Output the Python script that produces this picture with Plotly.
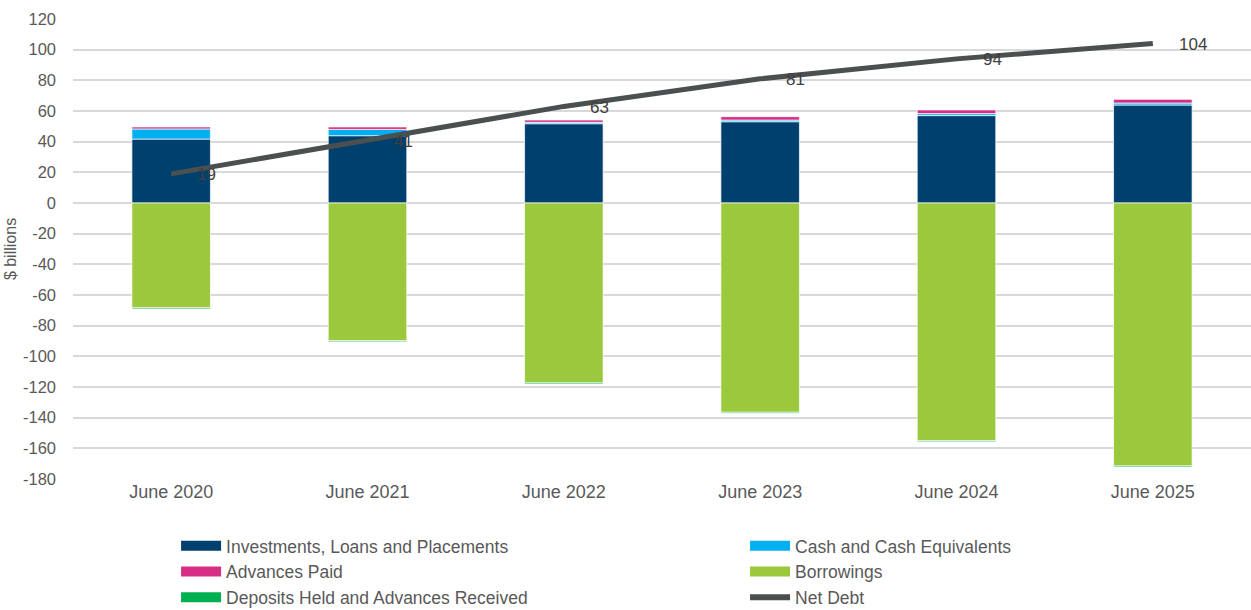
import plotly.graph_objects as go

categories = ["June 2020", "June 2021", "June 2022", "June 2023", "June 2024", "June 2025"]
investments = [41.7, 43.9, 51.7, 53.0, 57.0, 63.9]
cash = [6.6, 4.1, 0.9, 1.1, 1.3, 1.3]
advances_paid = [1.3, 1.6, 1.5, 2.2, 2.4, 2.4]
borrowings = [-68.4, -89.8, -117.3, -136.5, -155.0, -171.5]
deposits = [-0.7, -0.7, -0.7, -0.7, -0.7, -0.7]
net_debt = [19, 41, 63, 81, 94, 104]
y_ticks = list(range(-180, 121, 20))
y_tick_labels = [str(v) for v in y_ticks]

names = ["Investments, Loans and Placements", "Cash and Cash Equivalents", "Advances Paid",
         "Borrowings", "Deposits Held and Advances Received"]
colors = ["#00406E", "#00B0F0", "#D62E84", "#9BC83C", "#00B050"]
series = [investments, cash, advances_paid, borrowings, deposits]

fig = go.Figure()
for n, c, s in zip(names, colors, series):
    fig.add_trace(go.Bar(x=categories, y=s, name=n, marker_color=c,
                         marker_line=dict(color="rgba(255,255,255,0.7)", width=1),
                         width=0.4, showlegend=False))

fig.add_trace(go.Scatter(x=categories, y=net_debt, mode="lines", name="Net Debt",
                         line=dict(color="#4A4F4F", width=5), showlegend=False))

for c, v in zip(categories, net_debt):
    fig.add_annotation(x=c, y=v, text=str(v), showarrow=False, xanchor="left", yanchor="middle",
                       xshift=24, yshift=-1, font=dict(size=17, color="#404040"))

# legend entries: left column and right column
left_col = [(names[0], colors[0], 10), (names[2], colors[2], 10), (names[4], colors[4], 10)]
right_col = [(names[1], colors[1], 10), (names[3], colors[3], 10), ("Net Debt", "#4A4F4F", 6)]
for n, c, w in left_col:
    fig.add_trace(go.Scatter(x=[None], y=[None], mode="lines", name=n,
                             line=dict(color=c, width=w), showlegend=True, legend="legend"))
for n, c, w in right_col:
    fig.add_trace(go.Scatter(x=[None], y=[None], mode="lines", name=n,
                             line=dict(color=c, width=w), showlegend=True, legend="legend2"))

legend_style = dict(orientation="v", yanchor="top", xanchor="left", tracegroupgap=0,
                    font=dict(size=17.5, color="#595959"), itemwidth=40,
                    bgcolor="rgba(0,0,0,0)")

fig.update_layout(
    width=1251, height=610,
    barmode="relative",
    plot_bgcolor="white", paper_bgcolor="white",
    margin=dict(l=73, r=0, t=19, b=131, autoexpand=False),
    font=dict(family="Liberation Sans, Arial", size=16, color="#595959"),
    showlegend=True,
    legend=dict(x=0.0875, y=-0.1065, **legend_style),
    legend2=dict(x=0.5705, y=-0.1065, **legend_style),
    xaxis=dict(showgrid=False, showline=False, ticks="", tickfont=dict(size=18)),
    yaxis=dict(range=[-180, 120], tickvals=y_ticks, ticktext=y_tick_labels, showgrid=True,
               gridcolor="#D9D9D9", gridwidth=1.5, zeroline=False, ticks="",
               tickfont=dict(size=16.5), ticklabelstandoff=16,
               title=dict(text="$ billions", font=dict(size=16), standoff=2)),
)

fig.write_html("out.html", config={"displayModeBar": False},
               post_script="document.body.style.margin='0';")
